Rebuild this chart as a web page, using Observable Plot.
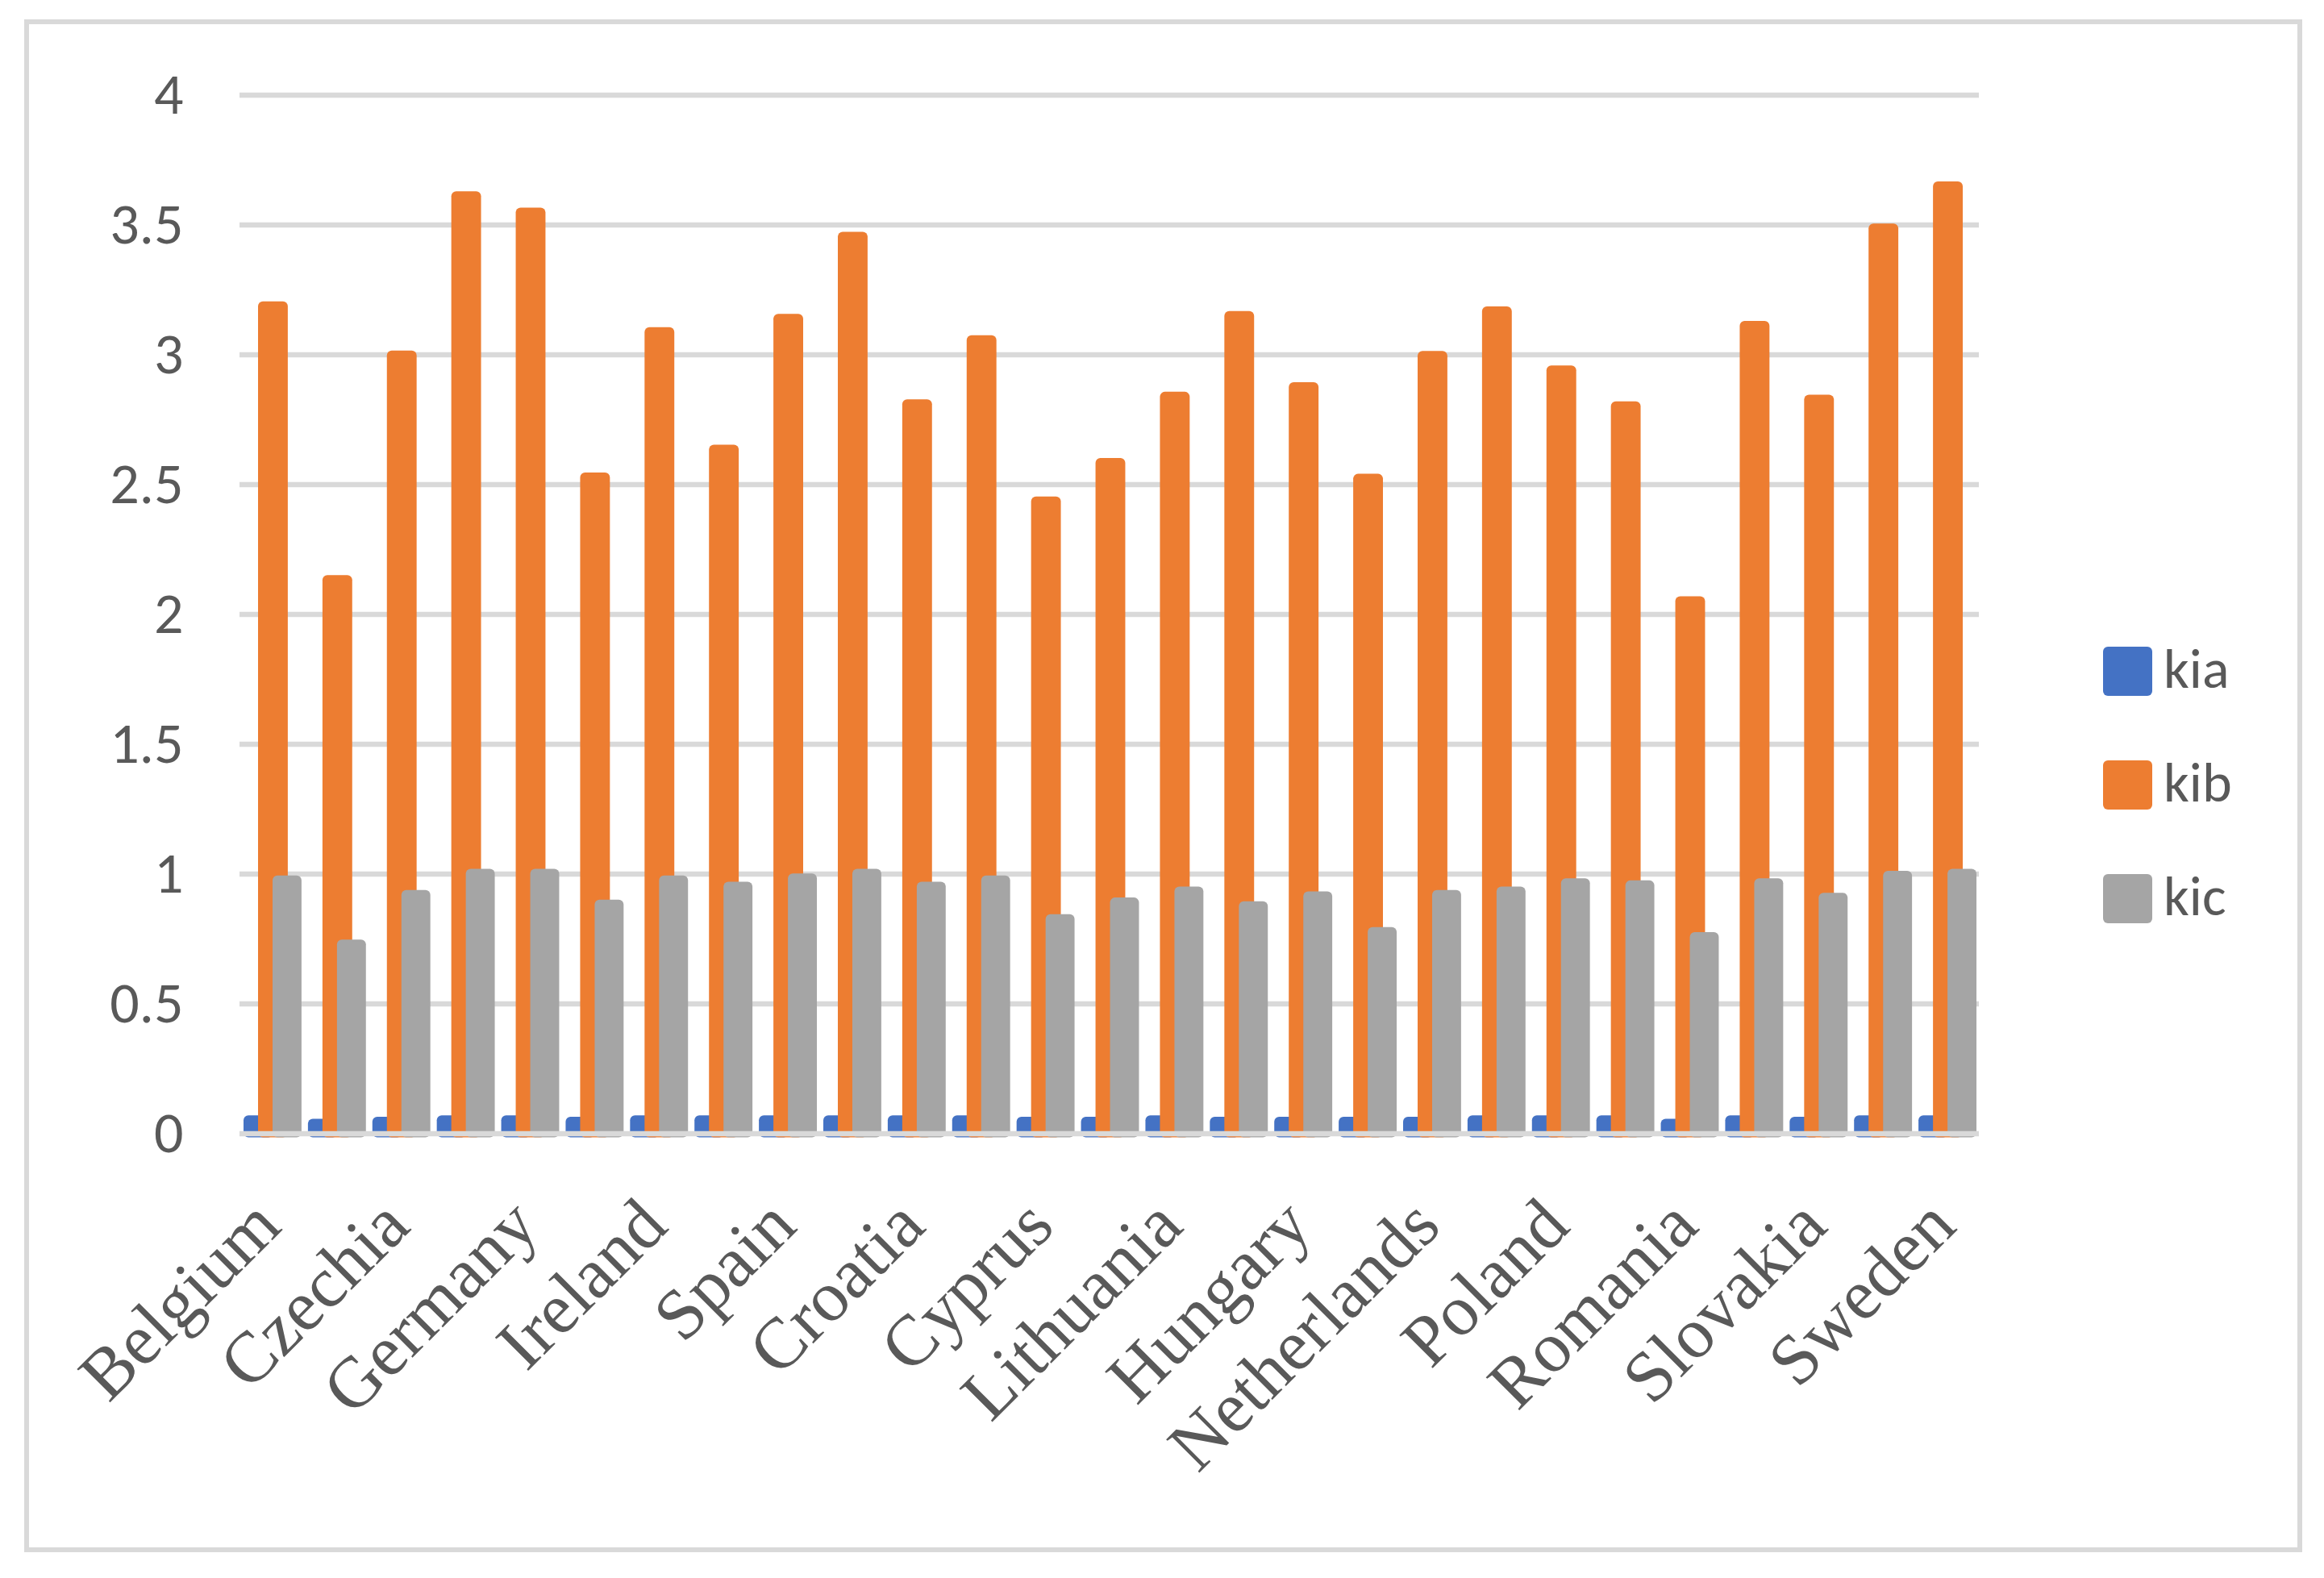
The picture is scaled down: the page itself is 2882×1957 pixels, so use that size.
<!DOCTYPE html>
<html>
<head>
<meta charset="utf-8">
<script src="https://cdn.jsdelivr.net/npm/d3@7"></script>
<script src="https://cdn.jsdelivr.net/npm/@observablehq/plot@0.6"></script>
<style>
  html, body { margin: 0; padding: 0; background: #ffffff; }
  #page { position: relative; width: 2882px; height: 1957px; background: #ffffff; overflow: hidden; }
  #frame { position: absolute; left: 30px; top: 24px; width: 2813px; height: 1889px; border: 6px solid #d9d9d9; box-sizing: content-box; pointer-events: none; }
  #chart { position: absolute; left: 0; top: 0; }
  #legend { position: absolute; left: 2608px; top: 802px; font-family: Calibri, Carlito, Lato, "Open Sans", sans-serif; font-size: 70px; color: #595959; }
  .row { display: flex; align-items: center; height: 61px; margin-bottom: 80px; }
  .sw { width: 61px; height: 61px; border-radius: 6px; margin-right: 14px; flex: none; }
  .lab { line-height: 61px; position: relative; top: -3px; }
</style>
</head>
<body>
<div id="page">
  <div id="chart"></div>
  <div id="frame"></div>
  <div id="legend"></div>
</div>
<script>
// ---- data ----
const countries = ["Belgium","Bulgaria","Czechia","Denmark","Germany","Estonia","Ireland","Greece","Spain","France",
  "Croatia","Italy","Cyprus","Latvia","Lithuania","Luxembourg","Hungary","Malta","Netherlands","Austria",
  "Poland","Portugal","Romania","Slovenia","Slovakia","Finland","Sweden"];

const xTickLabels = ["Belgium","Czechia","Germany","Ireland","Spain","Croatia","Cyprus","Lithuania",
  "Hungary","Netherlands","Poland","Romania","Slovakia","Sweden"];

const kia = [0.069,0.056,0.064,0.069,0.069,0.064,0.069,0.069,0.069,0.069,
  0.069,0.069,0.064,0.064,0.069,0.064,0.064,0.064,0.064,0.069,
  0.069,0.069,0.056,0.069,0.064,0.069,0.069];

const kib = [3.204,2.150,3.015,3.628,3.565,2.545,3.105,2.652,3.156,3.472,
  2.827,3.074,2.453,2.601,2.856,3.167,2.893,2.540,3.013,3.185,
  2.957,2.819,2.068,3.129,2.845,3.504,3.666];

const kic = [0.993,0.746,0.937,1.019,1.019,0.900,0.993,0.969,1.001,1.019,
  0.969,0.993,0.844,0.908,0.950,0.894,0.932,0.794,0.937,0.950,
  0.982,0.974,0.775,0.982,0.926,1.011,1.019];

const seriesNames = ["kia","kib","kic"];
const seriesColors = ["#4472c4","#ed7d31","#a5a5a5"];

const yTicks = [0,0.5,1,1.5,2,2.5,3,3.5,4];
const yTickLabels = ["0","0.5","1","1.5","2","2.5","3","3.5","4"];

// ---- tables ----
const rows = (vals) => countries.map((c, i) => ({country: c, value: vals[i]}));
const dataA = rows(kia), dataB = rows(kib), dataC = rows(kic);

const textColor = "#595959";
const gridColor = "#d9d9d9";

const chart = Plot.plot({
  width: 2882,
  height: 1957,
  marginLeft: 297,
  marginRight: 428,
  marginTop: 117.5,
  marginBottom: 551.5,
  style: {background: "transparent", color: textColor, fontFamily: "Calibri, Carlito, Lato, sans-serif"},
  x: {type: "band", domain: countries, padding: 0, round: false, axis: null},
  y: {domain: [0, 4], axis: null, label: null},
  marks: [
    Plot.ruleY(yTicks.filter(t => t > 0), {stroke: gridColor, strokeWidth: 6.5}),
    Plot.barY(dataA, {x: "country", y: "value", fill: seriesColors[0], insetLeft: 5, insetRight: 38, insetBottom: -5, rx: 6}),
    Plot.barY(dataB, {x: "country", y: "value", fill: seriesColors[1], insetLeft: 23, insetRight: 20, insetBottom: -5, rx: 6}),
    Plot.barY(dataC, {x: "country", y: "value", fill: seriesColors[2], insetLeft: 41, insetRight: 3, insetBottom: -5, rx: 6}),
    Plot.ruleY([0], {stroke: gridColor, strokeWidth: 6.5}),
    Plot.axisY({
      ticks: yTicks,
      tickFormat: d => yTickLabels[yTicks.indexOf(d)],
      label: null,
      tickSize: 0,
      tickPadding: 70,
      fontSize: 72,
      fontFamily: "Calibri, Carlito, Lato, sans-serif",
      fill: textColor
    }),
    Plot.text(xTickLabels, {
      x: d => d,
      frameAnchor: "bottom",
      dx: -6,
      dy: 98,
      rotate: -45,
      textAnchor: "end",
      lineAnchor: "middle",
      fontSize: 89,
      fontFamily: "'Palatino Linotype', 'Book Antiqua', Palatino, 'Liberation Serif', serif",
      fill: textColor
    })
  ]
});
document.getElementById("chart").appendChild(chart);

// ---- legend ----
const legend = document.getElementById("legend");
seriesNames.forEach((name, i) => {
  const row = document.createElement("div");
  row.className = "row";
  const sw = document.createElement("div");
  sw.className = "sw";
  sw.style.background = seriesColors[i];
  const lab = document.createElement("div");
  lab.className = "lab";
  lab.textContent = name;
  row.appendChild(sw);
  row.appendChild(lab);
  legend.appendChild(row);
});
</script>
</body>
</html>
